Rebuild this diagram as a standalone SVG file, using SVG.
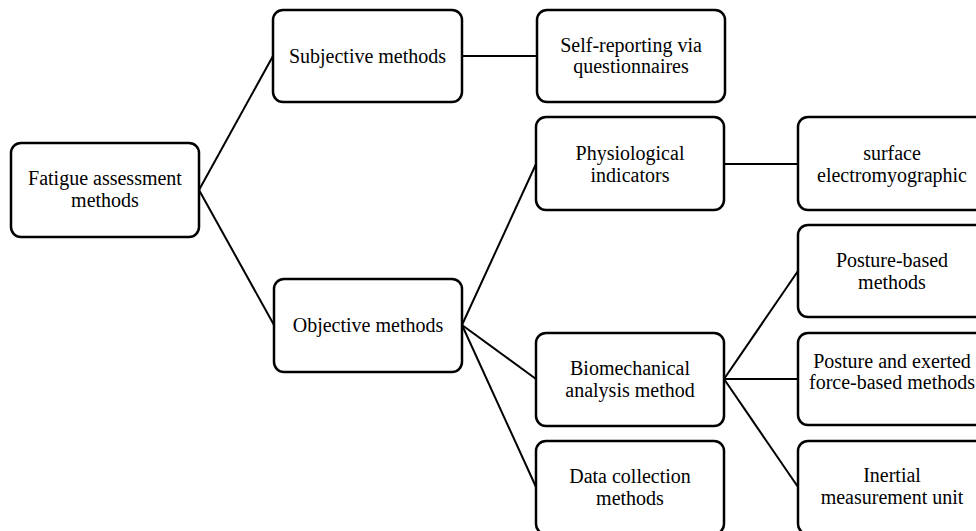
<svg xmlns="http://www.w3.org/2000/svg" width="976" height="531" viewBox="0 0 976 531">
<style>
.box{fill:#fff;stroke:#000;stroke-width:2.5}
.t{font-size:20px;fill:#000;text-anchor:middle}
.c{stroke:#000;stroke-width:2;fill:none}
</style>
<rect width="976" height="531" fill="#fff"/>
<g id="connectors">
<line class="c" x1="199" y1="190" x2="273" y2="56"/>
<line class="c" x1="199" y1="190" x2="274" y2="325"/>
<line class="c" x1="462" y1="56" x2="537" y2="56"/>
<line class="c" x1="462" y1="325" x2="536" y2="164"/>
<line class="c" x1="462" y1="325" x2="536" y2="379"/>
<line class="c" x1="462" y1="325" x2="536" y2="487"/>
<line class="c" x1="724" y1="164" x2="798" y2="164"/>
<line class="c" x1="724" y1="379" x2="798" y2="271"/>
<line class="c" x1="724" y1="379" x2="798" y2="379"/>
<line class="c" x1="724" y1="379" x2="798" y2="487"/>
</g>
<g font-family="'Liberation Serif', 'Times New Roman', Times, serif">
<g id="root">
<rect class="box" x="11" y="143" width="188" height="94" rx="10"/>
<text class="t" x="105" y="185">Fatigue assessment</text>
<text class="t" x="105" y="207">methods</text>
</g>
<g id="subjective">
<rect class="box" x="273" y="10" width="189" height="92" rx="10"/>
<text class="t" x="367.5" y="63">Subjective methods</text>
</g>
<g id="self-reporting">
<rect class="box" x="537" y="10" width="188" height="92" rx="10"/>
<text class="t" x="631" y="52">Self-reporting via</text>
<text class="t" x="631" y="73">questionnaires</text>
</g>
<g id="objective">
<rect class="box" x="274" y="279" width="188" height="93" rx="10"/>
<text class="t" x="368" y="332">Objective methods</text>
</g>
<g id="physiological">
<rect class="box" x="536" y="117" width="188" height="93" rx="10"/>
<text class="t" x="630" y="160">Physiological</text>
<text class="t" x="630" y="182">indicators</text>
</g>
<g id="surface">
<rect class="box" x="798" y="117" width="188" height="93" rx="10"/>
<text class="t" x="892" y="160">surface</text>
<text class="t" x="892" y="182">electromyographic</text>
</g>
<g id="biomechanical">
<rect class="box" x="536" y="333" width="188" height="93" rx="10"/>
<text class="t" x="630" y="375">Biomechanical</text>
<text class="t" x="630" y="397">analysis method</text>
</g>
<g id="data-collection">
<rect class="box" x="536" y="441" width="188" height="93" rx="10"/>
<text class="t" x="630" y="483">Data collection</text>
<text class="t" x="630" y="505">methods</text>
</g>
<g id="posture-based">
<rect class="box" x="798" y="225" width="188" height="92" rx="10"/>
<text class="t" x="892" y="267">Posture-based</text>
<text class="t" x="892" y="289">methods</text>
</g>
<g id="posture-force">
<rect class="box" x="798" y="333" width="188" height="92" rx="10"/>
<text class="t" x="892" y="368">Posture and exerted</text>
<text class="t" x="892" y="389">force-based methods</text>
</g>
<g id="inertial">
<rect class="box" x="798" y="441" width="188" height="93" rx="10"/>
<text class="t" x="892" y="482">Inertial</text>
<text class="t" x="892" y="504">measurement unit</text>
</g>
</g>
</svg>
